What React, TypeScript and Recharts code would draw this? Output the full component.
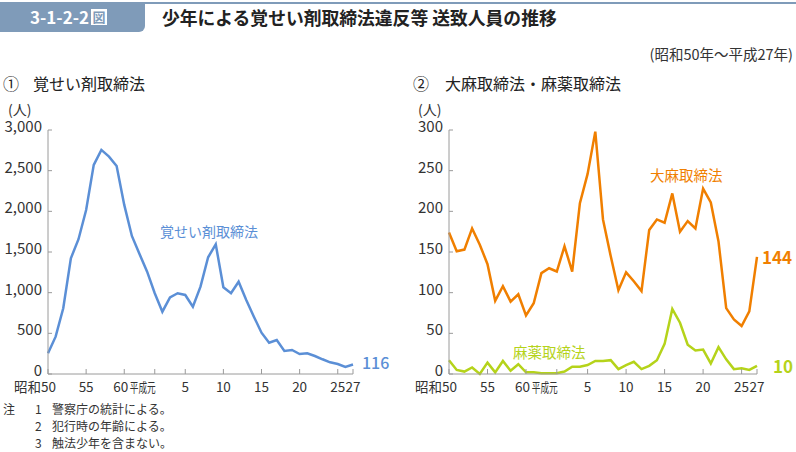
import { LineChart, Line, XAxis, YAxis } from "recharts";

// 昭和50年〜平成27年
const years = [
  "S50", "S51", "S52", "S53", "S54", "S55", "S56", "S57", "S58", "S59",
  "S60", "S61", "S62", "S63", "H1", "H2", "H3", "H4", "H5", "H6",
  "H7", "H8", "H9", "H10", "H11", "H12", "H13", "H14", "H15", "H16",
  "H17", "H18", "H19", "H20", "H21", "H22", "H23", "H24", "H25", "H26", "H27",
];

const stimulants = [
  255, 459, 808, 1423, 1657, 2017, 2571, 2755, 2673, 2558,
  2079, 1697, 1476, 1258, 993, 766, 943, 993, 972, 828,
  1074, 1435, 1595, 1066, 993, 1135, 910, 705, 508, 385,
  418, 283, 295, 246, 255, 221, 181, 144, 123, 86, 116,
];

const cannabis = [
  174, 151, 153, 179, 159, 135, 90, 108, 89, 98,
  72, 87, 124, 130, 126, 157, 126, 210, 246, 298,
  190, 145, 103, 125, 114, 102, 177, 190, 186, 222,
  175, 188, 179, 228, 211, 163, 81, 67, 59, 77, 144,
];

const narcotics = [
  17, 5, 3, 8, 0, 14, 2, 16, 4, 12,
  2, 2, 1, 1, 1, 3, 9, 9, 11, 16,
  16, 17, 6, 11, 15, 6, 10, 17, 37, 80,
  63, 36, 29, 30, 13, 33, 18, 6, 7, 5, 10,
];

const xTicks = ["S50", "S55", "S60", "H1", "H5", "H10", "H15", "H20", "H25", "H27"];
const xTickLabels = ["昭和50", "55", "60", "平成元", "5", "10", "15", "20", "25", "27"];
const leftTicks = [0, 500, 1000, 1500, 2000, 2500, 3000];
const rightTicks = [0, 50, 100, 150, 200, 250, 300];

const leftData = years.map((year, i) => ({ year, stimulants: stimulants[i] }));
const rightData = years.map((year, i) => ({
  year,
  cannabis: cannabis[i],
  narcotics: narcotics[i],
}));

const BLUE = "#5b8fd6";
const ORANGE = "#f07f00";
const GREEN = "#b5d31a";
const HEADER = "#7f9bb9";
const AXIS = "#9a9a9a";
const FONT = "'Noto Sans CJK JP', 'Noto Sans', sans-serif";

function XTick({ x, y, payload }: any) {
  const v = payload.value;
  const label = xTickLabels[xTicks.indexOf(v)];
  let anchor = "middle";
  let tx = x;
  if (v === "S50") {
    anchor = "end";
    tx = x + 8;
  } else if (v === "S60") {
    anchor = "end";
    tx = x + 4;
  } else if (v === "H1") {
    anchor = "end";
    tx = x + 1;
  }
  return (
    <g>
      <line x1={x} y1={y} x2={x} y2={y - 5} stroke={AXIS} />
      {v === "H1" ? (
        <text
          x={tx}
          y={y + 18}
          textAnchor={anchor}
          fontSize={13}
          textLength={26}
          lengthAdjust="spacingAndGlyphs"
          fill="#333"
        >
          {label}
        </text>
      ) : (
        <text x={tx} y={y + 18} textAnchor={anchor} fontSize={13.5} fill="#333">
          {label}
        </text>
      )}
    </g>
  );
}

function YTick({ x, y, payload }: any) {
  return (
    <g>
      <line x1={x} y1={y} x2={x + 4} y2={y} stroke={AXIS} />
      <text x={x - 6} y={y + 2} textAnchor="end" fontSize={15} fill="#333">
        {payload.value.toLocaleString("en-US")}
      </text>
    </g>
  );
}

function endLabel(color: string, dx: number, dy: number, size: number, weight: number) {
  return (props: any) => {
    if (props.index !== years.length - 1) return null;
    return (
      <text
        x={props.x + dx}
        y={props.y + dy}
        fill={color}
        fontSize={size}
        fontWeight={weight}
        dominantBaseline="central"
      >
        {props.value}
      </text>
    );
  };
}

const abs = (left: number, top: number, extra: any = {}) => ({
  position: "absolute" as const,
  left,
  top,
  whiteSpace: "nowrap" as const,
  lineHeight: 1,
  ...extra,
});

export default function App() {
  return (
    <div
      style={{
        position: "absolute",
        left: 0,
        top: 0,
        width: 796,
        height: 452,
        background: "#fff",
        fontFamily: FONT,
        color: "#222",
        overflow: "hidden",
      }}
    >
      {/* header */}
      <div style={abs(0, 2, { width: 796, height: 2, background: HEADER })} />
      <div
        style={abs(0, 2, {
          width: 145,
          height: 30,
          background: HEADER,
          borderBottomRightRadius: 6,
        })}
      />
      <div style={abs(30, 8, { color: "#fff", fontSize: 17, fontWeight: 700, display: "flex", alignItems: "center" })}>
        3-1-2-2
        <span
          style={{
            display: "inline-block",
            marginLeft: 2,
            width: 16,
            height: 16,
            background: "#fff",
            color: HEADER,
            fontSize: 13,
            lineHeight: "16px",
            textAlign: "center",
          }}
        >
          図
        </span>
      </div>
      <div style={abs(162, 9, { fontSize: 17.8, fontWeight: 700 })}>
        少年による覚せい剤取締法違反等 送致人員の推移
      </div>
      <div style={{ ...abs(0, 47, { fontSize: 14.5, color: "#333" }), left: undefined, right: 3 }}>
        (昭和50年～平成27年)
      </div>

      {/* section titles */}
      <div style={abs(3, 75, { fontSize: 16 })}>①</div>
      <div style={abs(33, 75, { fontSize: 16 })}>覚せい剤取締法</div>
      <div style={abs(413, 75, { fontSize: 16 })}>②</div>
      <div style={abs(445, 75, { fontSize: 16 })}>大麻取締法・麻薬取締法</div>
      <div style={abs(8, 102, { fontSize: 14, color: "#333" })}>(人)</div>
      <div style={abs(418, 102, { fontSize: 14, color: "#333" })}>(人)</div>

      {/* left chart */}
      <div style={abs(0, 100)}>
        <LineChart
          width={400}
          height={300}
          data={leftData}
          margin={{ top: 30, right: 47, bottom: 0, left: 0 }}
        >
          <XAxis
            dataKey="year"
            ticks={xTicks}
            interval={0}
            tick={<XTick />}
            tickLine={false}
            tickSize={0}
            tickMargin={0}
            height={26}
            axisLine={{ stroke: AXIS }}
          />
          <YAxis
            domain={[0, 3000]}
            ticks={leftTicks}
            interval={0}
            tick={<YTick />}
            tickLine={false}
            tickSize={0}
            tickMargin={0}
            width={48}
            axisLine={{ stroke: AXIS }}
          />
          <Line
            type="linear"
            dataKey="stimulants"
            stroke={BLUE}
            strokeWidth={2.5}
            dot={false}
            isAnimationActive={false}
            label={endLabel(BLUE, 9, -3, 16, 500)}
          />
        </LineChart>
      </div>
      <div style={abs(160, 224, { fontSize: 14, color: BLUE })}>覚せい剤取締法</div>

      {/* right chart */}
      <div style={abs(400, 100)}>
        <LineChart
          width={396}
          height={300}
          data={rightData}
          margin={{ top: 30, right: 39, bottom: 0, left: 0 }}
        >
          <XAxis
            dataKey="year"
            ticks={xTicks}
            interval={0}
            tick={<XTick />}
            tickLine={false}
            tickSize={0}
            tickMargin={0}
            height={26}
            axisLine={{ stroke: AXIS }}
          />
          <YAxis
            domain={[0, 300]}
            ticks={rightTicks}
            interval={0}
            tick={<YTick />}
            tickLine={false}
            tickSize={0}
            tickMargin={0}
            width={49}
            axisLine={{ stroke: AXIS }}
          />
          <Line
            type="linear"
            dataKey="cannabis"
            stroke={ORANGE}
            strokeWidth={2.5}
            dot={false}
            isAnimationActive={false}
            label={endLabel(ORANGE, 5, 0, 17, 700)}
          />
          <Line
            type="linear"
            dataKey="narcotics"
            stroke={GREEN}
            strokeWidth={2.5}
            dot={false}
            isAnimationActive={false}
            label={endLabel(GREEN, 16, 0, 17, 700)}
          />
        </LineChart>
      </div>
      <div style={abs(650, 168, { fontSize: 14.5, color: ORANGE })}>大麻取締法</div>
      <div style={abs(513, 345, { fontSize: 14.5, color: GREEN })}>麻薬取締法</div>

      {/* notes */}
      <div style={abs(3, 403, { fontSize: 12, color: "#333" })}>注</div>
      <div style={abs(35, 403, { fontSize: 12, color: "#333" })}>1</div>
      <div style={abs(52, 403, { fontSize: 12, color: "#333" })}>警察庁の統計による。</div>
      <div style={abs(35, 420, { fontSize: 12, color: "#333" })}>2</div>
      <div style={abs(52, 420, { fontSize: 12, color: "#333" })}>犯行時の年齢による。</div>
      <div style={abs(35, 437, { fontSize: 12, color: "#333" })}>3</div>
      <div style={abs(52, 437, { fontSize: 12, color: "#333" })}>触法少年を含まない。</div>
    </div>
  );
}
